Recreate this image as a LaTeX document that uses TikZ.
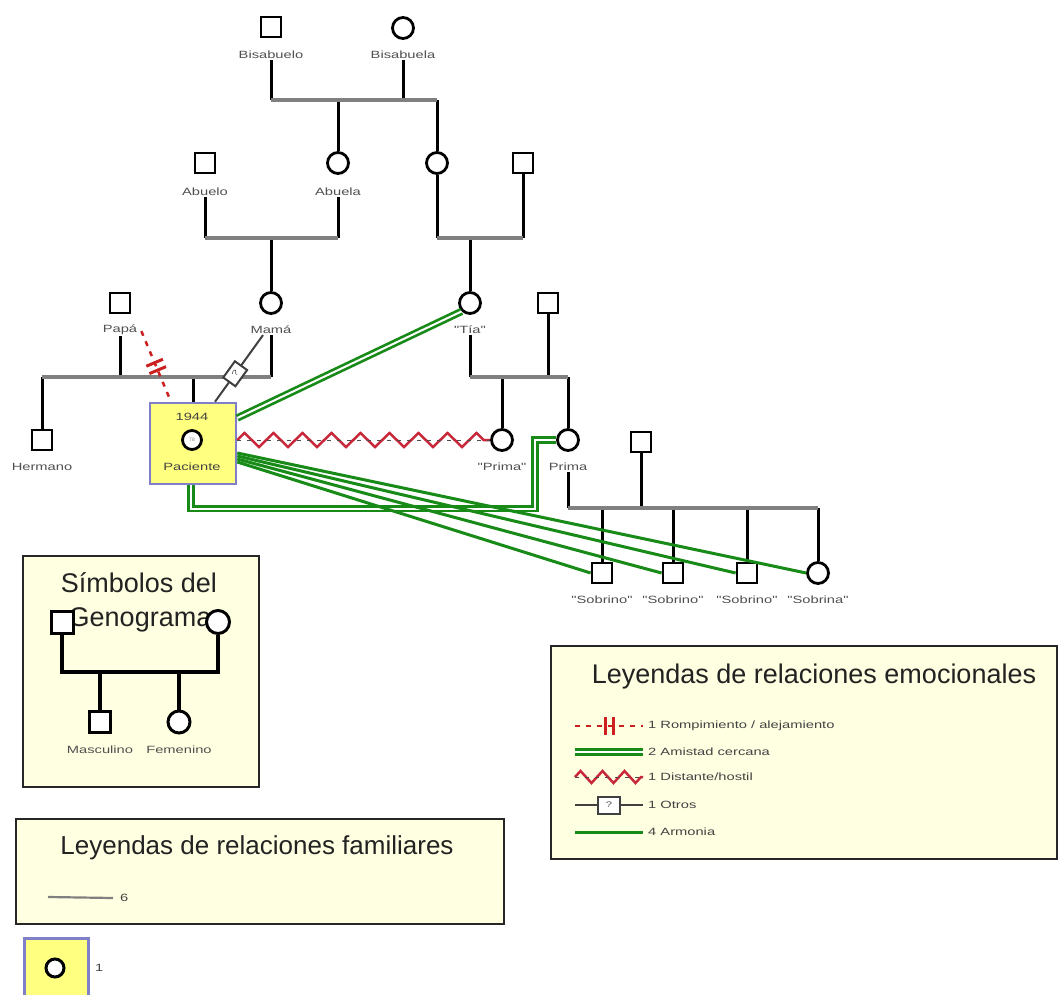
\documentclass[tikz,border=0pt]{standalone}
\usepackage{fontspec}
\setmainfont{Liberation Sans}
\newfontfamily\lblfont[FakeStretch=1.4]{Liberation Sans}
\usetikzlibrary{decorations.pathmorphing,decorations.markings}
\definecolor{ptyellow}{HTML}{FFFF80}
\definecolor{ptborder}{HTML}{8080C8}
\definecolor{legfill}{HTML}{FFFFE1}
\definecolor{grn}{HTML}{178A17}
\definecolor{hostred}{HTML}{C8283A}
\definecolor{cutred}{HTML}{CC2020}
\definecolor{bargray}{HTML}{808080}
\definecolor{lblgray}{HTML}{505050}
\definecolor{txtdark}{HTML}{222222}
\tikzset{
  sq/.style={draw=black, fill=white, line width=2.8pt, minimum size=20pt, inner sep=0pt},
  circ/.style={circle, draw=black, fill=white, line width=2.8pt, minimum size=21pt, inner sep=0pt},
  lbl/.style={font=\lblfont\fontsize{10.5}{12}\selectfont, text=lblgray, inner sep=1pt},
  entry/.style={font=\lblfont\fontsize{10.5}{12}\selectfont, text=txtdark!85, inner sep=0pt, anchor=west},
  title/.style={font=\fontsize{27}{30}\selectfont, text=txtdark, inner sep=0pt},
  vline/.style={line width=3pt, draw=black},
  bar/.style={line width=3.2pt, draw=bargray},
  armonia/.style={draw=grn, line width=3pt},
  amistad/.style={draw=grn, double=white, double distance=2pt, line width=2.7pt},
  hostil/.style={draw=hostred, line width=2.5pt, decorate, decoration={zigzag, segment length=29pt, amplitude=7pt}},
  hostdash/.style={draw=black!70, line width=1pt, dash pattern=on 4pt off 6pt},
  cutoff/.style={draw=cutred, line width=2.5pt, dash pattern=on 5pt off 6pt, postaction={decorate},
    decoration={markings, mark=at position 0.5 with {\draw[solid, line width=3pt, cutred] (-4pt,-9pt) -- (-4pt,9pt) (4pt,-9pt) -- (4pt,9pt);}}},
  otros/.style={draw=black!75, line width=2pt},
  qbox/.style={draw=black!75, fill=white, line width=2pt, minimum width=20pt, minimum height=15pt, inner sep=0pt, font=\lblfont\fontsize{8}{8}\selectfont, text=black!70},
  legbox/.style={draw=black!85, fill=legfill, line width=1.8pt, inner sep=0pt, anchor=north west},
  patbox/.style={draw=ptborder, fill=ptyellow, line width=2.5pt, inner sep=0pt}
}
\begin{document}
\begin{tikzpicture}[x=1pt,y=-1pt]
\useasboundingbox (0,0) rectangle (1058,995);
\clip (0,0) rectangle (1058,995);
\fill[white] (0,0) rectangle (1058,995);

% ---------- legend boxes ----------
\node[legbox, minimum width=236pt, minimum height=231pt] (symbox) at (22,555) {};
\node[legbox, minimum width=488pt, minimum height=105pt] (fambox) at (15,818) {};
\node[legbox, minimum width=506pt, minimum height=213pt] (emobox) at (550,645) {};

% ---------- generation 1 ----------
\node[sq] (bisabuelo) at (271,27) {};
\node[lbl] (bisabuelo-l) at (271,55) {Bisabuelo};
\node[circ] (bisabuela) at (403,28) {};
\node[lbl] (bisabuela-l) at (403,55) {Bisabuela};
\coordinate (b1L) at (271,100);
\coordinate (b1R) at (437,100);

% ---------- generation 2 ----------
\node[sq] (abuelo) at (205,163) {};
\node[lbl] (abuelo-l) at (205,192) {Abuelo};
\node[circ] (abuela) at (338,163) {};
\node[lbl] (abuela-l) at (338,192) {Abuela};
\node[circ] (tiam) at (437,163) {};
\node[sq] (tiap) at (523,163) {};
\coordinate (b2L) at (205,238);
\coordinate (b2R) at (338,238);
\coordinate (b3L) at (437,238);
\coordinate (b3R) at (523,238);

% ---------- generation 3 ----------
\node[sq] (papa) at (120,303) {};
\node[lbl] (papa-l) at (120,330) {Papá};
\node[circ] (mama) at (271,303) {};
\node[lbl] (mama-l) at (271,330) {Mamá};
\node[circ] (tia) at (470,303) {};
\node[lbl] (tia-l) at (470,330) {"Tía"};
\node[sq] (tiah) at (548,303) {};
\coordinate (b4L) at (42,377);
\coordinate (b4R) at (271,377);
\coordinate (b5L) at (470,377);
\coordinate (b5R) at (568,377);

% ---------- generation 4 ----------
\node[sq] (hermano) at (42,440) {};
\node[lbl] (hermano-l) at (42,467) {Hermano};
\node[patbox, minimum width=86pt, minimum height=81pt] (pac) at (193,443.5) {};
\node[lbl, text=txtdark!85] (pac-y) at (192,417) {1944};
\node[circ, minimum size=19pt] (pac-c) at (192,440) {\fontsize{5}{5}\selectfont\color{gray}78};
\node[lbl, text=txtdark!85] (pac-l) at (192,467) {Paciente};
\node[circ] (prima1) at (502,440) {};
\node[lbl] (prima1-l) at (502,467) {"Prima"};
\node[circ] (prima2) at (568,440) {};
\node[lbl] (prima2-l) at (568,467) {Prima};
\node[sq] (primah) at (641,442) {};
\coordinate (b6L) at (568,508);
\coordinate (b6R) at (818,508);

% ---------- generation 5 ----------
\node[sq] (sob1) at (602,573) {};
\node[lbl] (sob1-l) at (602,600) {"Sobrino"};
\node[sq] (sob2) at (673,573) {};
\node[lbl] (sob2-l) at (673,600) {"Sobrino"};
\node[sq] (sob3) at (747,573) {};
\node[lbl] (sob3-l) at (747,600) {"Sobrino"};
\node[circ] (sobna) at (818,573) {};
\node[lbl] (sobna-l) at (818,600) {"Sobrina"};

% ---------- family lines ----------
\draw[vline] (bisabuelo-l.south) -- (bisabuelo-l.south |- b1L);
\draw[vline] (bisabuela-l.south) -- (bisabuela-l.south |- b1L);
\draw[vline] (abuela.north |- b1L) -- (abuela.north);
\draw[vline] (b1R) -- (tiam.north);
\draw[bar] (b1L) -- (b1R);

\draw[vline] (abuelo-l.south) -- (b2L);
\draw[vline] (abuela-l.south) -- (b2R);
\draw[vline] (mama.north |- b2L) -- (mama.north);
\draw[bar] (b2L) -- (b2R);
\draw[vline] (tiam.south) -- (b3L);
\draw[vline] (tiap.south) -- (b3R);
\draw[vline] (tia.north |- b3L) -- (tia.north);
\draw[bar] (b3L) -- (b3R);

\draw[vline] (papa-l.south) -- (papa-l.south |- b4L);
\draw[vline] (mama-l.south) -- (b4R);
\draw[vline] (b4L) -- (hermano.north);
\draw[vline] (pac.north |- b4L) -- (pac.north);
\draw[bar] (b4L) -- (b4R);
\draw[vline] (tia-l.south) -- (b5L);
\draw[vline] (tiah.south) -- (tiah.south |- b5L);
\draw[vline] (prima1.north |- b5L) -- (prima1.north);
\draw[vline] (b5R) -- (prima2.north);
\draw[bar] (b5L) -- (b5R);

\draw[vline] (prima2-l.south) -- (b6L);
\draw[vline] (primah.south) -- (primah.south |- b6L);
\draw[vline] (sob1.north |- b6L) -- (sob1.north);
\draw[vline] (sob2.north |- b6L) -- (sob2.north);
\draw[vline] (sob3.north |- b6L) -- (sob3.north);
\draw[vline] (b6R) -- (sobna.north);
\draw[bar] (b6L) -- (b6R);

% ---------- emotional relations ----------
\draw[cutoff] ([shift={(3pt,5pt)}]papa-l.south east) -- ([xshift=-22pt]pac.north);
\draw[otros] ([xshift=-8pt]mama-l.south) -- node[qbox, sloped, pos=0.58] {?} ([xshift=22pt]pac.north);
\draw[amistad] (tia.south west) -- ([yshift=25.5pt]pac.east);
\draw[hostil] ([yshift=3.5pt]pac.east) -- (prima1.west);
\draw[hostdash] ([yshift=3.5pt]pac.east) -- (prima1.west);
\draw[amistad] ([xshift=-2pt]pac.south) -- ++(0,23.5) -- ++(344,0) |- (prima2.west);
\draw[armonia] ([yshift=-18.5pt]pac.east) -- (sob1.west);
\draw[armonia] ([yshift=-15.5pt]pac.east) -- (sob2.west);
\draw[armonia] ([yshift=-12.5pt]pac.east) -- (sob3.west);
\draw[armonia] ([yshift=-9.5pt]pac.east) -- (sobna.west);

% ---------- symbols legend ----------
\node[title] (sym-t1) at (139,583) {Símbolos del};
\node[title] (sym-t2) at (140,620) {Genograma};
\node[sq, minimum size=22pt, line width=3pt] (sym-m) at (62,622) {};
\node[circ, minimum size=23pt, line width=3pt] (sym-f) at (218,622) {};
\node[sq, minimum size=21pt, line width=3pt] (sym-c1) at (100,722) {};
\node[circ, minimum size=22pt, line width=3pt] (sym-c2) at (179,722) {};
\node[lbl] (sym-c1l) at (100,750) {Masculino};
\node[lbl] (sym-c2l) at (179,750) {Femenino};
\coordinate (sbL) at (62,672);
\coordinate (sbR) at (218,672);
\draw[vline, line width=3.2pt] (sym-m.south) -- (sbL) -- (sbR) -- (sym-f.south);
\draw[vline, line width=3.2pt] (sym-c1.north |- sbL) -- (sym-c1.north);
\draw[vline, line width=3.2pt] (sym-c2.north |- sbL) -- (sym-c2.north);

% ---------- family legend ----------
\node[title, font=\fontsize{26}{30}\selectfont] (fam-t) at (257,848) {Leyendas de relaciones familiares};
\coordinate (famA) at (48,897);
\node[entry] (fam-6) at (120,898) {6};
\draw[line width=2.2pt, draw=bargray] (famA) -- ([xshift=-7pt]fam-6.west);

% ---------- patient legend ----------
\node[patbox, anchor=north west, minimum width=64pt, minimum height=70pt] (patleg) at (23,937) {};
\node[circ, minimum size=18pt, line width=3pt] (patleg-c) at (55,968) {};
\node[entry] (patleg-1) at (95,968) {1};

% ---------- emotional legend ----------
\node[title] (emo-t) at (814,677) {Leyendas de relaciones emocionales};
\coordinate (e1a) at (575,726); \node[entry] (e1) at (648,726) {1 Rompimiento / alejamiento};
\coordinate (e2a) at (575,752); \node[entry] (e2) at (648,752) {2 Amistad cercana};
\coordinate (e3a) at (575,777); \node[entry] (e3) at (648,777) {1 Distante/hostil};
\coordinate (e4a) at (575,805); \node[entry] (e4) at (648,805) {1 Otros};
\coordinate (e5a) at (575,832); \node[entry] (e5) at (648,832) {4 Armonia};
\draw[cutoff] (e1a) -- ([xshift=-5pt]e1.west);
\draw[amistad] (e2a) -- ([xshift=-5pt]e2.west);
\draw[hostil, decoration={zigzag, segment length=22pt, amplitude=6pt}] (e3a) -- ([xshift=-5pt]e3.west);
\draw[hostdash] (e3a) -- ([xshift=-5pt]e3.west);
\draw[otros] (e4a) -- node[qbox, minimum width=22pt, minimum height=17pt] {?} ([xshift=-5pt]e4.west);
\draw[armonia] (e5a) -- ([xshift=-5pt]e5.west);
\end{tikzpicture}
\end{document}
